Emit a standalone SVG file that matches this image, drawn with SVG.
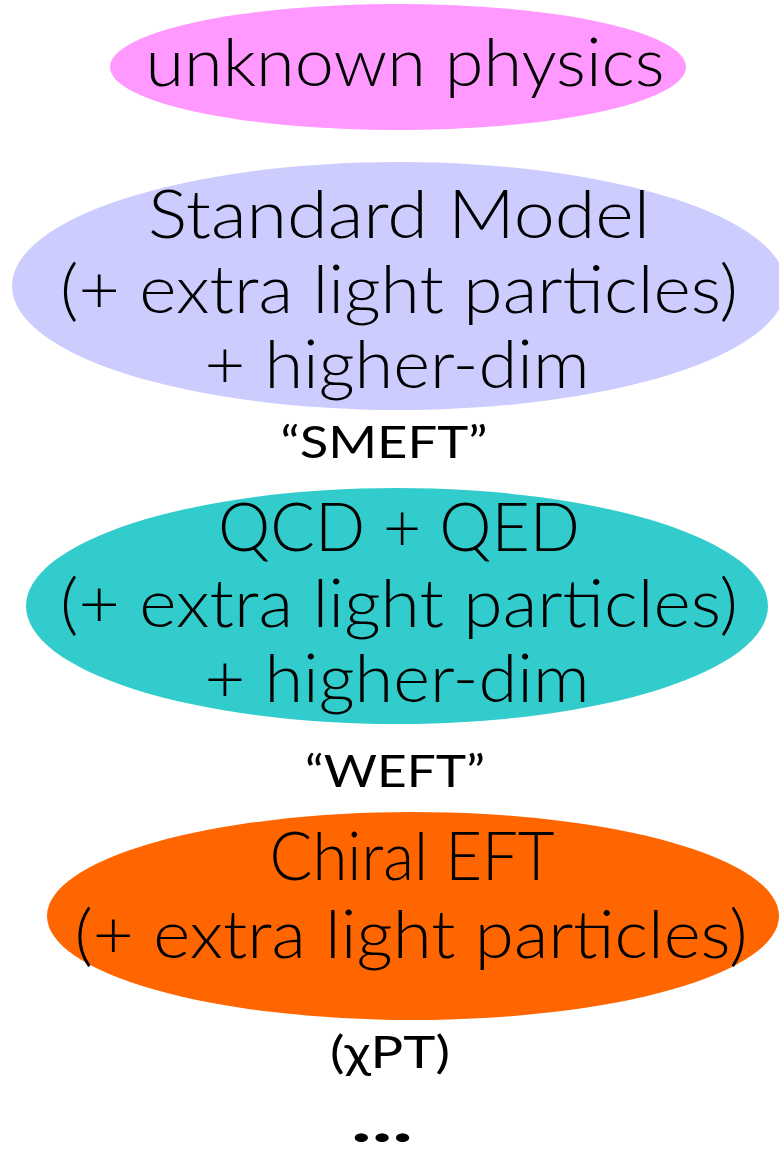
<svg xmlns="http://www.w3.org/2000/svg" width="779" height="1161" viewBox="0 0 779 1161">
<style>
text{font-family:"Lato","Noto Sans","DejaVu Sans",sans-serif;fill:#000;text-anchor:middle;font-weight:400}
.big{font-size:67px;font-weight:300}
.lab{font-size:45px}
</style>
<rect width="779" height="1161" fill="#fff"/>
<g id="unknown">
<ellipse cx="398" cy="67" rx="288" ry="63" fill="#FF99FF"/>
<text class="big" x="405" y="86" textLength="519" lengthAdjust="spacingAndGlyphs">unknown physics</text>
</g>
<g id="smeft">
<ellipse cx="399" cy="286" rx="387" ry="124" fill="#CCCCFF"/>
<text class="big" x="399" y="238" textLength="502" lengthAdjust="spacingAndGlyphs">Standard Model</text>
<text class="big" x="399" y="313" textLength="678" lengthAdjust="spacingAndGlyphs">(+ extra light particles)</text>
<text class="big" x="397" y="388" textLength="385" lengthAdjust="spacingAndGlyphs">+ higher-dim</text>
</g>
<g id="smeft-label">
<text class="lab" x="384" y="458" textLength="207" lengthAdjust="spacingAndGlyphs">“SMEFT”</text>
</g>
<g id="weft">
<ellipse cx="397" cy="606" rx="371" ry="118" fill="#33CCCC"/>
<text class="big" x="399" y="551" textLength="362" lengthAdjust="spacingAndGlyphs">QCD + QED</text>
<text class="big" x="399" y="627" textLength="678" lengthAdjust="spacingAndGlyphs">(+ extra light particles)</text>
<text class="big" x="397" y="702" textLength="385" lengthAdjust="spacingAndGlyphs">+ higher-dim</text>
</g>
<g id="weft-label">
<text class="lab" x="395" y="787" textLength="180" lengthAdjust="spacingAndGlyphs">“WEFT”</text>
</g>
<g id="chiral">
<ellipse cx="413" cy="916" rx="366" ry="104" fill="#FF6600"/>
<text class="big" x="412" y="880" textLength="285" lengthAdjust="spacingAndGlyphs">Chiral EFT</text>
<text class="big" x="411" y="958" textLength="673" lengthAdjust="spacingAndGlyphs">(+ extra light particles)</text>
</g>
<g id="chpt-label">
<text class="lab" x="390" y="1068" textLength="120" lengthAdjust="spacingAndGlyphs">(χPT)</text>
</g>
<g id="dots">
<text x="382" y="1142" textLength="62" lengthAdjust="spacingAndGlyphs" style="font-size:58px;font-weight:700">...</text>
</g>
<g id="connectors"></g>
</svg>
